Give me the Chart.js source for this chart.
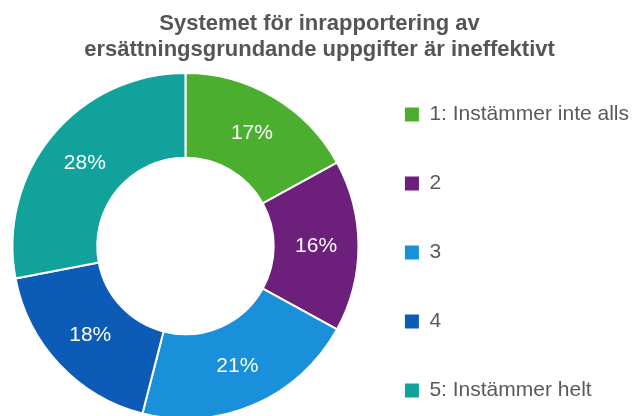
<!DOCTYPE html>
<html>
<head>
<meta charset="utf-8">
<script src="https://cdn.jsdelivr.net/npm/chart.js@4/dist/chart.umd.min.js"></script>
<style>
  html, body { margin: 0; padding: 0; background: #ffffff; overflow: hidden; width: 636px; height: 416px; }
  canvas { display: block; }
</style>
</head>
<body>
<canvas id="c" width="636" height="449"></canvas>
<script>
// ---- data ----
const categories = ['1: Instämmer inte alls', '2', '3', '4', '5: Instämmer helt'];
const shares = [17, 16, 21, 18, 28];
const sliceColors = ['#4cae2e', '#6d1f7c', '#1a90da', '#0b5bb7', '#10a29b'];
const titleLines = ['Systemet för inrapportering av', 'ersättningsgrundande uppgifter är ineffektivt'];

const FONT = '"Liberation Sans", Arial, sans-serif';

// percentage labels drawn at the centre of each ring segment
const pctLabels = {
  id: 'pctLabels',
  afterDatasetsDraw(chart) {
    const ctx = chart.ctx;
    const meta = chart.getDatasetMeta(0);
    ctx.save();
    ctx.font = '21px ' + FONT;
    ctx.fillStyle = '#ffffff';
    ctx.textAlign = 'center';
    ctx.textBaseline = 'middle';
    meta.data.forEach((arc, i) => {
      const p = arc.tooltipPosition();
      ctx.fillText(shares[i] + '%', p.x, p.y);
    });
    ctx.restore();
  }
};

new Chart(document.getElementById('c'), {
  type: 'doughnut',
  data: {
    labels: categories,
    datasets: [{
      data: shares,
      backgroundColor: sliceColors,
      borderColor: '#ffffff',
      borderWidth: 2
    }]
  },
  options: {
    responsive: false,
    devicePixelRatio: 1,
    animation: false,
    radius: 173,
    cutout: '51%',
    layout: { padding: { left: 0, right: -3, top: 0, bottom: 0 } },
    plugins: {
      tooltip: { enabled: false },
      title: {
        display: true,
        text: titleLines,
        color: '#555555',
        font: { family: FONT, size: 22, weight: 'bold', lineHeight: 1.15 },
        padding: { top: 11.5, bottom: -19.1 }
      },
      legend: {
        display: true,
        position: 'right',
        fullSize: true,
        align: 'end',
        labels: {
          color: '#595959',
          font: { family: FONT, size: 21, lineHeight: '35px' },
          boxWidth: 14,
          boxHeight: 14,
          padding: 34,
          generateLabels(chart) {
            const items = Chart.overrides.doughnut.plugins.legend.labels.generateLabels(chart);
            items.forEach(it => {
              it.text = [it.text];          // one line, 35px line height
              it.lineWidth = 0;
              it.strokeStyle = 'rgba(0,0,0,0)';
            });
            return items;
          }
        }
      }
    }
  },
  plugins: [pctLabels]
});
</script>
</body>
</html>
